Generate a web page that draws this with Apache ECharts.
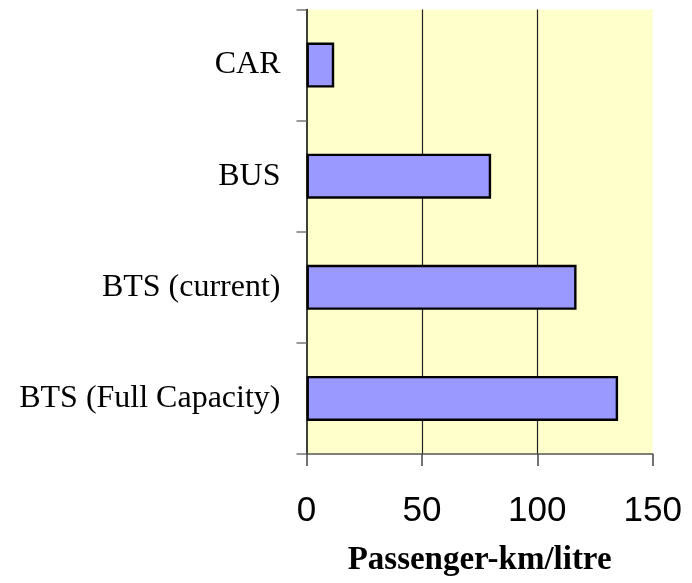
<!DOCTYPE html>
<html>
<head>
<meta charset="utf-8">
<script src="https://cdn.jsdelivr.net/npm/echarts@6/dist/echarts.min.js"></script>
<style>html,body{margin:0;padding:0;background:#fff}#c{width:692px;height:583px}</style>
</head>
<body>
<div id="c"></div>
<script>
const categories = ['CAR', 'BUS', 'BTS (current)', 'BTS (Full Capacity)'];
const values = [12, 80, 117, 135];
const xTicks = [0, 50, 100, 150];

const chart = echarts.init(document.getElementById('c'), null, {renderer: 'canvas'});
chart.setOption({
  animation: false,
  backgroundColor: '#ffffff',
  grid: {
    left: 306.5, right: 39.3, top: 9.5, bottom: 129,
    show: true, backgroundColor: '#FFFFCC', borderWidth: 0, containLabel: false
  },
  xAxis: {
    type: 'value',
    min: xTicks[0], max: xTicks[xTicks.length - 1], interval: 50,
    name: 'Passenger-km/litre',
    nameLocation: 'middle',
    nameGap: 90,
    nameTextStyle: {fontFamily: 'Liberation Serif', fontWeight: 'bold', fontSize: 33, color: '#000'},
    axisLine: {show: true, lineStyle: {color: '#555', width: 1.5}},
    axisTick: {show: true, length: 12, lineStyle: {color: '#444', width: 1.5}},
    axisLabel: {fontFamily: 'Liberation Sans', fontSize: 35, color: '#000', margin: 40},
    splitLine: {show: true, showMinLine: false, showMaxLine: false, lineStyle: {color: '#222', width: 1.2}}
  },
  yAxis: {
    type: 'category',
    data: categories,
    inverse: true,
    axisLine: {show: true, lineStyle: {color: '#000', width: 1.5}},
    axisTick: {show: true, length: 10, alignWithLabel: false, lineStyle: {color: '#777', width: 1.5}},
    axisLabel: {fontFamily: 'Liberation Serif', fontSize: 32, color: '#000', margin: 26, padding: [12, 0, 0, 0]},
    splitLine: {show: false}
  },
  series: [{
    type: 'bar',
    data: values,
    barWidth: 45,
    itemStyle: {color: '#9999FF', borderColor: '#000', borderWidth: 2.4}
  }]
});
</script>
</body>
</html>
